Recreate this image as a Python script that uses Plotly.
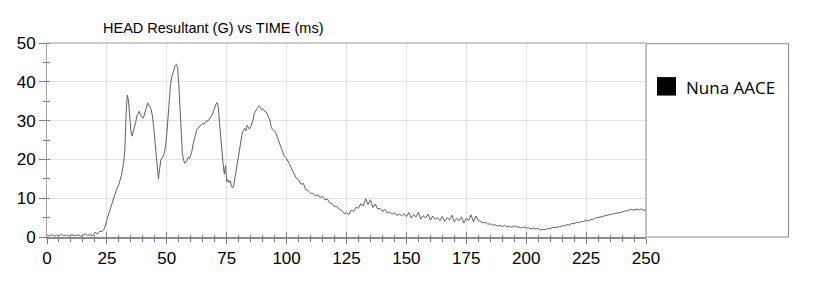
import plotly.graph_objects as go

# ---------------- data ----------------
time_ms = (
    [float(t) for t in range(0, 33)]
    + [32.5 + 0.5 * i for i in range(136)]
    + [float(t) for t in range(101, 251)]
)

head_g = [
    # 0 - 32 ms (1 ms step)
    0.5, 0.3, 0.6, 0.2, 0.5, 0.4, 0.7, 0.3, 0.5, 0.2,
    0.6, 0.4, 0.3, 0.6, 0.2, 0.5, 0.8, 0.4, 0.6, 0.3,
    1.2, 0.8, 1.5, 1.4, 2.2, 4.5, 6.5, 8.2, 10.5, 12.2,
    13.5, 15.8, 19.0,
    # 32.5 - 100 ms (0.5 ms step)
    22.5, 31.5, 36.6, 35.2, 31.0, 27.5, 26.0, 27.0, 28.4, 29.5,
    31.2, 32.0, 32.4, 31.5, 31.0, 30.6, 31.2, 32.5, 33.4, 34.6,
    33.8, 33.6, 32.8, 31.2, 28.5, 25.0, 20.5, 16.5, 15.0, 17.5,
    19.8, 20.4, 20.8, 21.8, 23.5, 26.5, 31.0, 35.0, 39.0, 41.0,
    42.2, 43.2, 44.2, 44.5, 43.6, 39.5, 32.5, 26.0, 21.5, 19.8,
    19.0, 19.3, 20.2, 20.6, 20.2, 21.0, 22.2, 24.0, 25.5, 26.8,
    27.6, 28.0, 28.4, 28.8, 29.0, 29.3, 29.0, 29.6, 30.0, 29.8,
    30.2, 30.4, 31.0, 31.6, 32.6, 33.5, 34.2, 34.6, 33.5, 29.5,
    25.0, 21.0, 18.8, 16.2, 18.4, 14.2, 14.8, 14.0, 14.5, 13.0,
    12.6, 13.6, 15.5, 17.8, 20.0, 22.0, 23.6, 25.5, 26.8, 27.4,
    28.0, 27.4, 28.8, 28.3, 27.8, 28.4, 29.3, 30.2, 31.8, 32.5,
    32.9, 33.4, 33.8, 33.5, 32.8, 33.0, 32.6, 32.4, 32.2, 31.6,
    31.2, 30.2, 28.5, 27.8, 27.6, 27.3, 26.8, 25.9, 25.2, 24.2,
    23.4, 22.5, 21.6, 20.9, 20.5, 20.2,
    # 101 - 250 ms (1 ms step)
    19.0, 17.6, 16.6, 15.2, 14.8, 13.6, 13.8, 12.2, 11.9, 11.3,
    11.2, 10.6, 10.9, 10.2, 10.5, 9.6, 9.8, 8.8, 8.6, 7.8,
    7.9, 7.1, 6.9, 6.0, 6.2, 5.8, 6.9, 6.6, 7.7, 7.4,
    8.6, 8.0, 9.9, 8.4, 9.6, 7.6, 8.5, 7.2, 7.4, 6.6,
    7.1, 6.2, 6.4, 5.9, 6.2, 5.6, 5.9, 5.5, 6.0, 5.2,
    6.3, 4.9, 5.8, 5.1, 6.4, 4.6, 5.5, 4.9, 5.9, 4.3,
    5.4, 4.5, 5.0, 4.2, 5.3, 4.0, 5.0, 4.4, 5.6, 3.9,
    4.8, 4.2, 5.2, 3.6, 4.8, 4.3, 5.7, 3.9, 5.4, 4.3,
    4.0, 3.6, 3.8, 3.3, 3.4, 3.0, 3.2, 2.8, 3.0, 2.7,
    3.0, 2.6, 2.8, 2.5, 2.9, 2.6, 2.6, 2.3, 2.6, 2.3,
    2.4, 2.1, 2.3, 2.0, 2.2, 1.8, 2.0, 1.9, 2.2, 2.1,
    2.5, 2.4, 2.6, 2.6, 2.9, 2.9, 3.2, 3.1, 3.5, 3.4,
    3.8, 3.7, 4.0, 4.0, 4.3, 4.2, 4.5, 4.6, 4.9, 5.0,
    5.2, 5.3, 5.5, 5.6, 5.8, 5.9, 6.1, 6.2, 6.4, 6.4,
    6.7, 6.7, 7.0, 7.1, 6.9, 7.2, 7.0, 7.2, 6.9, 7.0,
]

x_ticks = [0, 25, 50, 75, 100, 125, 150, 175, 200, 225, 250]
y_ticks = [0, 10, 20, 30, 40, 50]
series_name = "Nuna AACE"
chart_title = "HEAD Resultant (G) vs TIME (ms)"

# ---------------- layout geometry (pixels) ----------------
W, H = 830, 282
L, R, T, B = 46.5, 184.3, 43.3, 45.3
PW, PH = W - L - R, H - T - B


def px(xp):
    return (xp - L) / PW


def py(yp):
    return (H - B - yp) / PH


AXIS_FONT = "Liberation Sans, Arial, sans-serif"
TICK_COLOR = "#7a7a7a"

fig = go.Figure()
fig.add_trace(go.Scatter(
    x=time_ms, y=head_g, mode="lines", name=series_name,
    line=dict(color="#606060", width=1), showlegend=False,
))
# helper trace so the overlay axes (inner half of the crossing ticks) are drawn
fig.add_trace(go.Scatter(
    x=[None], y=[None], xaxis="x2", yaxis="y2", showlegend=False,
    hoverinfo="skip",
))

fig.update_layout(
    width=W, height=H,
    margin=dict(l=L, r=R, t=T, b=B, pad=0),
    paper_bgcolor="white", plot_bgcolor="white",
    showlegend=False,
    xaxis=dict(
        range=[0, 250], tickmode="array", tickvals=x_ticks,
        ticks="outside", ticklen=5, tickwidth=1, tickcolor=TICK_COLOR,
        minor=dict(dtick=5, tick0=0, ticks="outside", ticklen=2.5,
                   tickwidth=1, tickcolor=TICK_COLOR, showgrid=False),
        showgrid=True, gridcolor="#e2e2e2", gridwidth=1,
        showline=True, linecolor="#8a8a8a", linewidth=2,
        zeroline=False,
        tickfont=dict(family=AXIS_FONT, size=17, color="black"),
    ),
    xaxis2=dict(
        range=[0, 250], overlaying="x", side="bottom",
        tickmode="array", tickvals=x_ticks,
        ticks="inside", ticklen=5, tickwidth=1, tickcolor=TICK_COLOR,
        minor=dict(dtick=5, tick0=0, ticks="inside", ticklen=2.5,
                   tickwidth=1, tickcolor=TICK_COLOR, showgrid=False),
        showticklabels=False, showgrid=False, showline=False, zeroline=False,
    ),
    yaxis=dict(
        range=[0, 50], tickmode="array", tickvals=y_ticks,
        ticks="outside", ticklen=7, tickwidth=1, tickcolor=TICK_COLOR,
        minor=dict(dtick=5, tick0=0, ticks="outside", ticklen=3,
                   tickwidth=1, tickcolor=TICK_COLOR, showgrid=False),
        showgrid=True, gridcolor="#e2e2e2", gridwidth=1,
        showline=True, linecolor="#a0a0a0", linewidth=1,
        zeroline=False,
        tickfont=dict(family=AXIS_FONT, size=17, color="black"),
    ),
    yaxis2=dict(
        range=[0, 50], overlaying="y", side="left",
        tickmode="array", tickvals=y_ticks, ticks="",
        minor=dict(dtick=5, tick0=5, ticks="inside", ticklen=3,
                   tickwidth=1, tickcolor=TICK_COLOR, showgrid=False),
        showticklabels=False, showgrid=False, showline=False, zeroline=False,
    ),
    shapes=[
        # top border of the plot frame
        dict(type="line", xref="paper", yref="paper", x0=0, x1=1, y0=1, y1=1,
             line=dict(color="#9a9a9a", width=1)),
        # legend box
        dict(type="rect", xref="paper", yref="paper",
             x0=1, x1=px(788.3), y0=0, y1=py(44.0),
             line=dict(color="#8a8a8a", width=1), fillcolor="rgba(0,0,0,0)"),
        # legend swatch
        dict(type="rect", xref="paper", yref="paper",
             x0=px(656.7), x1=px(675.7), y0=py(95.7), y1=py(77.3),
             line=dict(color="black", width=0), fillcolor="black"),
    ],
    annotations=[
        dict(text=chart_title, xref="paper", yref="paper",
             x=px(213), y=py(28.5), xanchor="center", yanchor="middle",
             showarrow=False,
             font=dict(family=AXIS_FONT, size=14.5, color="black")),
        dict(text=series_name, xref="paper", yref="paper",
             x=px(684.0), y=py(87.5), xanchor="left", yanchor="middle",
             showarrow=False,
             font=dict(family="Open Sans, sans-serif", size=17, color="black")),
    ],
)

fig.write_html("out.html")
